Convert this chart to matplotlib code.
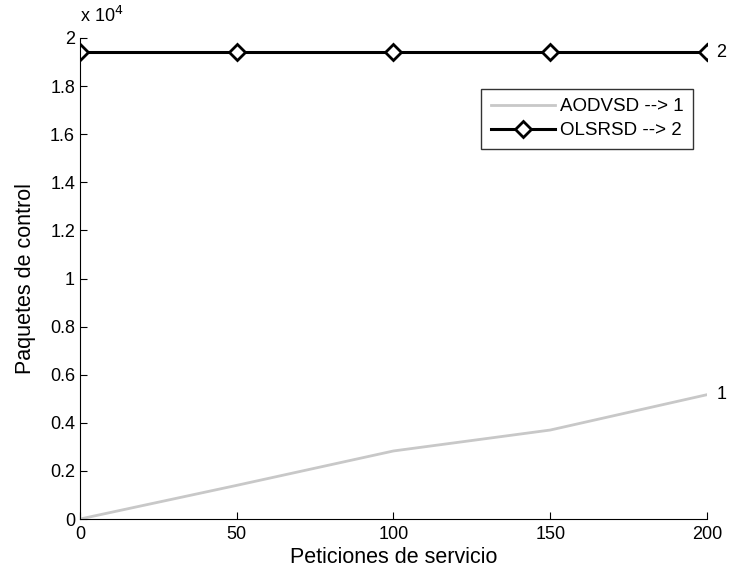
import matplotlib
matplotlib.use('Agg')
import matplotlib.pyplot as plt
from matplotlib.ticker import FuncFormatter

plt.rcParams['font.family'] = ['Liberation Sans', 'DejaVu Sans']

# datos
peticiones = [0, 50, 100, 150, 200]
aodvsd = [0, 1400, 2830, 3700, 5170]
olsrsd = [19400, 19400, 19400, 19400, 19400]

fig = plt.figure(figsize=(7.31, 5.73), dpi=100)
ax = fig.add_axes([0.1094, 0.0942, 0.8578, 0.8395])

ax.plot(peticiones, aodvsd, color='#c8c8c8', lw=2, label='AODVSD --> 1')
ax.plot(peticiones, olsrsd, color='black', lw=2.2, marker='D', ms=8,
        mfc='white', mec='black', mew=2, label='OLSRSD --> 2')

ax.text(peticiones[-1] + 3, aodvsd[-1], '1', fontsize=13, va='center', ha='left')
ax.text(peticiones[-1] + 3, olsrsd[-1], '2', fontsize=13, va='center', ha='left')

ax.set_xlim(0, 200)
ax.set_ylim(0, 20000)
ax.set_xticks([0, 50, 100, 150, 200])
ax.set_yticks([i * 2000 for i in range(11)])
ax.yaxis.set_major_formatter(FuncFormatter(lambda v, p: f'{v/1e4:g}'))
ax.tick_params(direction='in', length=5, labelsize=13, width=0.8)
ax.tick_params(axis='x', pad=5)

ax.spines['top'].set_visible(False)
ax.spines['right'].set_visible(False)

ax.text(0.0, 1.025, r'x 10$^{4}$', transform=ax.transAxes, fontsize=13, va='bottom', ha='left')

ax.set_xlabel('Peticiones de servicio', fontsize=15.5, labelpad=3)
ax.set_ylabel('Paquetes de control', fontsize=15.5, labelpad=10)

leg = ax.legend(loc='upper right', bbox_to_anchor=(0.978, 0.894), fontsize=13.5,
                frameon=True, fancybox=False, edgecolor='black', borderpad=0.5,
                handlelength=3.4, handletextpad=0.3, labelspacing=0.35,
                borderaxespad=0)
leg.get_frame().set_linewidth(1)

plt.savefig('out.png', dpi=100)
